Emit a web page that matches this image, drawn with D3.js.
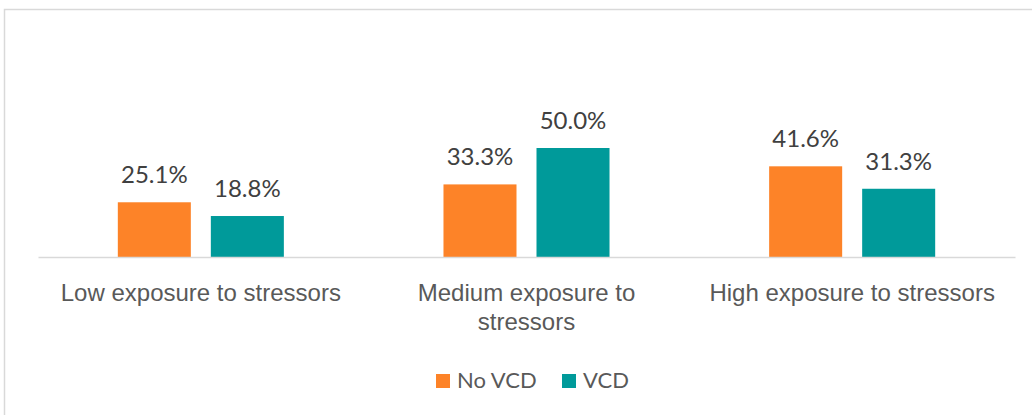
<!DOCTYPE html>
<html>
<head>
<meta charset="utf-8">
<script src="https://cdn.jsdelivr.net/npm/d3@7"></script>
<style>
  body { margin: 0; background: #fff; }
  svg { display: block; font-family: Lato, "Open Sans", sans-serif; }
</style>
</head>
<body>
<svg id="chart" width="1032" height="415"></svg>
<script>
// data
var categories = ["Low exposure to stressors", "Medium exposure to stressors", "High exposure to stressors"];
var seriesNames = ["No VCD", "VCD"];
var noVcd = [25.1, 33.3, 41.6];
var vcd = [18.8, 50.0, 31.3];
var colors = ["#FD8328", "#009A9A"];

var svg = d3.select("#chart");

// outer frame of the chart area
svg.append("rect")
  .attr("x", 4.5)
  .attr("y", 9.5)
  .attr("width", 1100)
  .attr("height", 500)
  .attr("fill", "none")
  .attr("stroke", "#D9D9D9")
  .attr("stroke-width", 1.5);

var rows = categories.map(function(c, i) {
  return {cat: c, values: [noVcd[i], vcd[i]]};
});

// scales
var x0 = d3.scaleBand()
  .domain(categories)
  .range([38, 1015]);

var x1 = d3.scaleBand()
  .domain(seriesNames)
  .range([0, x0.bandwidth()])
  .paddingInner(0.215)
  .paddingOuter(0.858);

var y = d3.scaleLinear()
  .domain([0, 50])
  .range([257, 148]);

// bars
var groups = svg.selectAll("g.group")
  .data(rows)
  .enter().append("g")
  .attr("class", "group")
  .attr("transform", function(d) { return "translate(" + x0(d.cat) + ",0)"; });

groups.selectAll("rect")
  .data(function(d) { return d.values.map(function(v, j) { return {name: seriesNames[j], value: v, j: j}; }); })
  .enter().append("rect")
  .attr("x", function(d) { return x1(d.name); })
  .attr("y", function(d) { return y(d.value); })
  .attr("width", x1.bandwidth())
  .attr("height", function(d) { return y(0) - y(d.value); })
  .attr("fill", function(d) { return colors[d.j]; });

// value labels
groups.selectAll("text.val")
  .data(function(d) { return d.values.map(function(v, j) { return {name: seriesNames[j], value: v}; }); })
  .enter().append("text")
  .attr("class", "val")
  .attr("x", function(d) { return x1(d.name) + x1.bandwidth() / 2; })
  .attr("y", function(d) { return y(d.value) - 19; })
  .attr("text-anchor", "middle")
  .attr("font-size", "24px")
  .attr("fill", "#404040")
  .text(function(d) { return d.value.toFixed(1) + "%"; });

// x axis
var xAxis = d3.axisBottom(x0).tickSize(0).tickPadding(0);
var gx = svg.append("g")
  .attr("class", "bottom axis")
  .attr("transform", "translate(0," + y(0) + ")")
  .call(xAxis);

gx.select(".domain")
  .attr("stroke", "#D9D9D9")
  .attr("stroke-width", 1.5);

gx.selectAll(".tick text").remove();

// wrapped category labels
var labelLines = [["Low exposure to stressors"], ["Medium exposure to", "stressors"], ["High exposure to stressors"]];
gx.selectAll(".tick").each(function(d, i) {
  var t = d3.select(this).append("text")
    .attr("text-anchor", "middle")
    .attr("font-size", "24px")
    .attr("fill", "#595959");
  labelLines[i].forEach(function(line, k) {
    t.append("tspan")
      .attr("x", 0)
      .attr("y", 44 + k * 29)
      .text(line);
  });
});

// legend
var legend = svg.append("g")
  .attr("transform", "translate(436,388)");

var legendX = [0, 126];
seriesNames.forEach(function(name, i) {
  var item = legend.append("g").attr("transform", "translate(" + legendX[i] + ",0)");
  item.append("rect")
    .attr("x", 0)
    .attr("y", -14)
    .attr("width", 14)
    .attr("height", 14)
    .attr("fill", colors[i]);
  item.append("text")
    .attr("x", 21)
    .attr("y", 0)
    .attr("font-size", "22px")
    .attr("fill", "#595959")
    .text(name);
});
</script>
</body>
</html>
